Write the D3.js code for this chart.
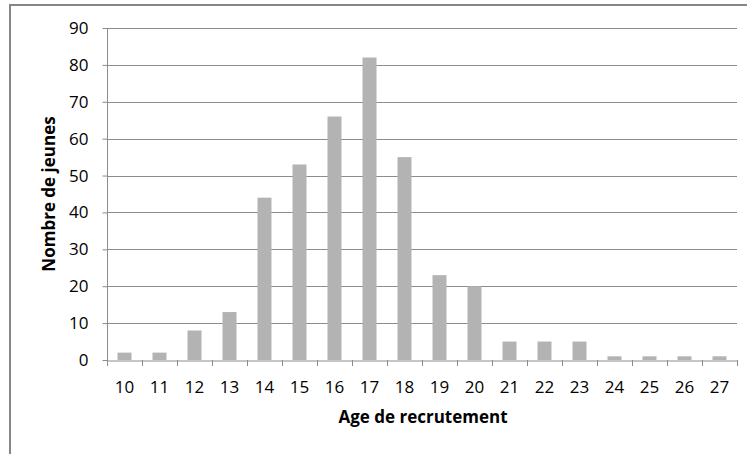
<!DOCTYPE html>
<html><head><meta charset="utf-8">
<script src="https://cdn.jsdelivr.net/npm/d3@7"></script>
<style>body{margin:0;background:#fff}svg{display:block}</style>
</head><body>
<svg id="c" width="747" height="454"></svg>
<script>
const categories = ["10","11","12","13","14","15","16","17","18","19","20","21","22","23","24","25","26","27"];
const values = [2,2,8,13,44,53,66,82,55,23,20,5,5,5,1,1,1,1];
const yTicks = [0,10,20,30,40,50,60,70,80,90];
const xTitle = "Age de recrutement";
const yTitle = "Nombre de jeunes";

const svg = d3.select("#c");
const font = "'Open Sans', 'Noto Sans', sans-serif";
// frame
svg.append("rect").attr("x",10).attr("y",5).attr("width",760).attr("height",470)
  .attr("fill","#fff").attr("stroke","#868686").attr("stroke-width",2);

const L=107, R=737, T=28, B=360;
const x = d3.scaleBand().domain(categories).range([L,R]).paddingInner(0.6).paddingOuter(0.3);
const y = d3.scaleLinear().domain([0,90]).range([B,T]);

// gridlines
svg.append("g").selectAll("line").data(yTicks.filter(d=>d>0)).join("line")
  .attr("x1",L).attr("x2",R).attr("y1",d=>Math.round(y(d))+0.5).attr("y2",d=>Math.round(y(d))+0.5)
  .attr("stroke","#8c8c8c").attr("stroke-width",1);

// bars
svg.append("g").selectAll("rect").data(values).join("rect")
  .attr("x",(d,i)=>x(categories[i])).attr("width",x.bandwidth())
  .attr("y",d=>y(d)).attr("height",d=>B-y(d)).attr("fill","#b3b3b3");

// y axis
const ya = svg.append("g").attr("transform",`translate(${L+0.5},0)`)
  .call(d3.axisLeft(y).tickValues(yTicks).tickSize(5).tickPadding(14));
ya.select(".domain").attr("stroke","#8c8c8c").attr("d",`M0,${T}V${B}`);
ya.selectAll(".tick line").attr("stroke","#8c8c8c");
ya.selectAll(".tick text").attr("font-family",font).attr("font-size",17).attr("fill","#000");

// x axis
const xOuter = d3.scaleBand().domain(categories).range([L,R]);
const xa = svg.append("g").attr("transform",`translate(0,${B+0.5})`)
  .call(d3.axisBottom(xOuter).tickSize(0).tickPadding(20));
xa.select(".domain").attr("stroke","#8c8c8c");
xa.selectAll(".tick text").attr("font-family",font).attr("font-size",17).attr("fill","#000");
// category boundary ticks
svg.append("g").selectAll("line").data(d3.range(categories.length+1)).join("line")
  .attr("x1",i=>Math.round(L+i*xOuter.step())+0.5).attr("x2",i=>Math.round(L+i*xOuter.step())+0.5)
  .attr("y1",B).attr("y2",B+6).attr("stroke","#8c8c8c");

// titles
svg.append("text").attr("x",(L+R)/2+1).attr("y",423).attr("text-anchor","middle")
  .attr("font-family",font).attr("font-size",17).attr("font-weight","bold").text(xTitle);
svg.append("text").attr("transform",`translate(55,${(T+B)/2}) rotate(-90)`).attr("text-anchor","middle")
  .attr("font-family",font).attr("font-size",17).attr("font-weight","bold").text(yTitle);
</script>
</body></html>
